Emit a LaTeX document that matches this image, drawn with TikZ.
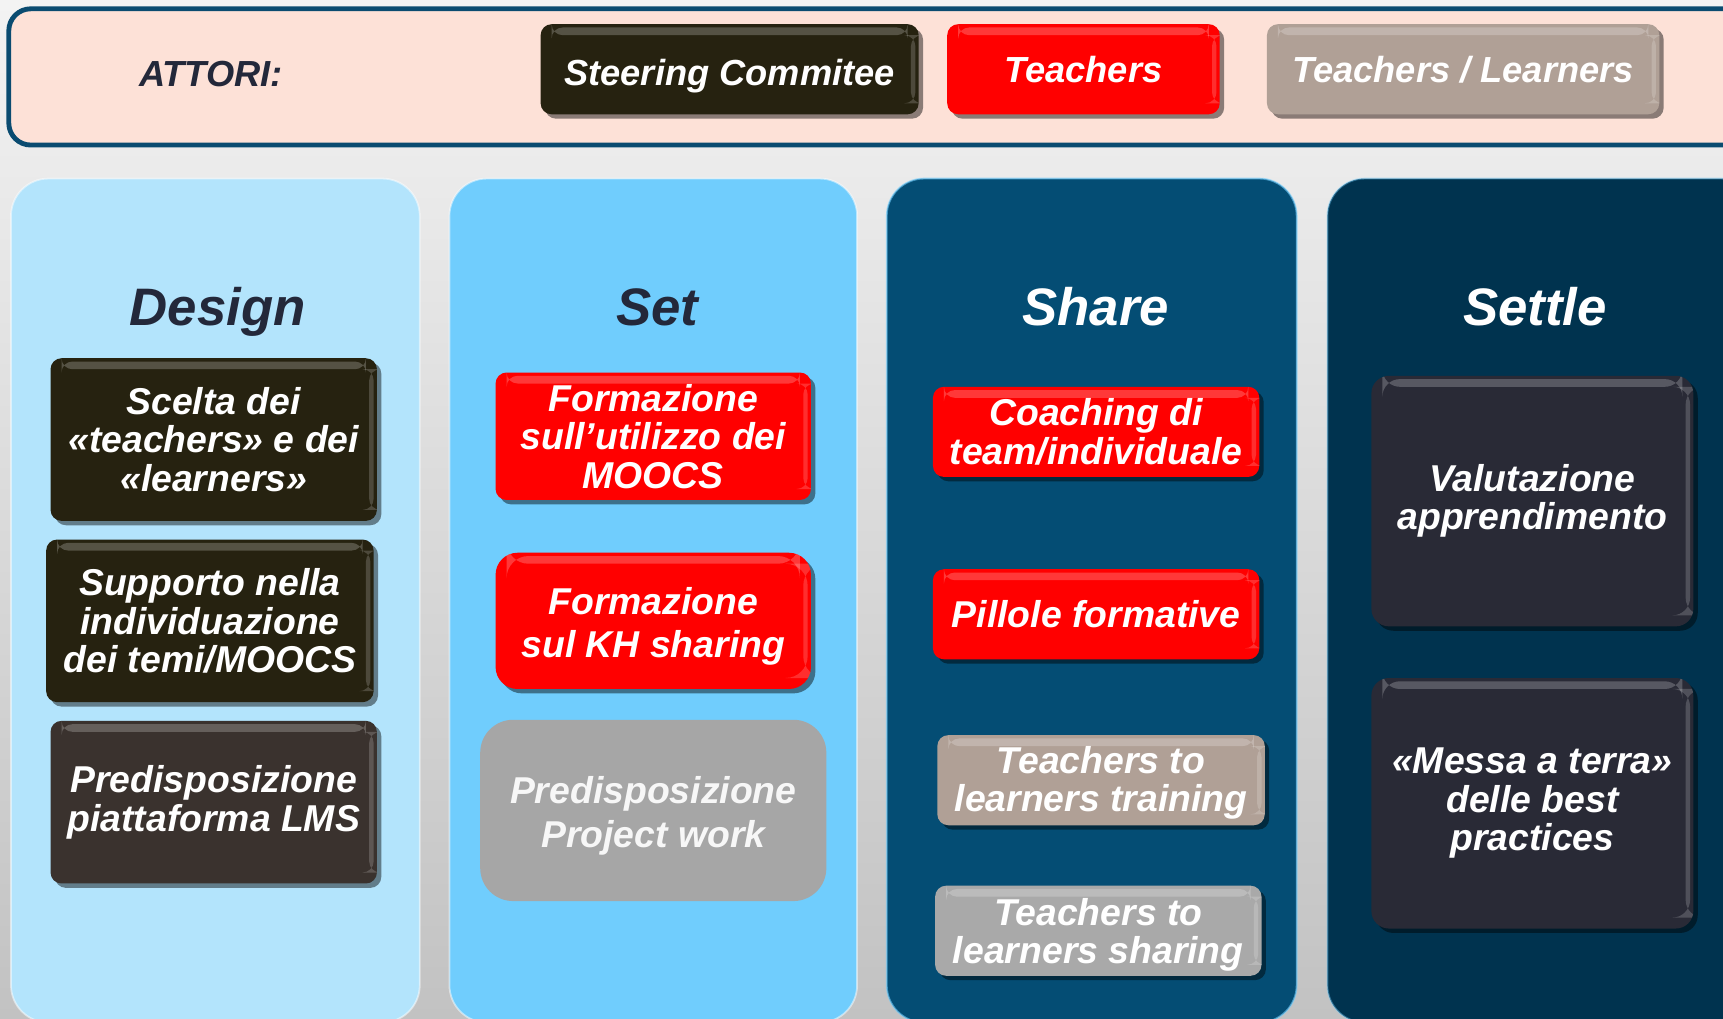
\documentclass[tikz,border=0pt]{standalone}
\usepackage{fontspec}
\setmainfont{Liberation Sans}
\usetikzlibrary{shadows}
\definecolor{bgtop}{HTML}{F3F3F3}
\definecolor{bgbot}{HTML}{C2C2C2}
\definecolor{panelfill}{HTML}{FDE1D7}
\definecolor{panelline}{HTML}{0A4B70}
\definecolor{titledark}{HTML}{23283A}
\definecolor{coldesign}{HTML}{B3E4FC}
\definecolor{colset}{HTML}{70CDFD}
\definecolor{colshare}{HTML}{044D74}
\definecolor{colsettle}{HTML}{00334F}
\definecolor{steer}{HTML}{262210}
\definecolor{steerb}{HTML}{3A322E}
\definecolor{teachred}{HTML}{FF0000}
\definecolor{taupe}{HTML}{B0A096}
\definecolor{midgray}{HTML}{A9A9A9}
\definecolor{pwgray}{HTML}{A6A6A6}
\definecolor{settlebox}{HTML}{292A36}
\begin{document}
\begin{tikzpicture}[x=0.5pt,y=-0.5pt,
  gloss/.style={path picture={
    \fill[white,opacity=0.22] ([xshift=5pt,yshift=-1.5pt]path picture bounding box.north west) rectangle ([xshift=-5pt,yshift=-5pt]path picture bounding box.north east);
    \fill[white,opacity=0.18] ([xshift=-3.5pt,yshift=-5pt]path picture bounding box.north east) rectangle ([xshift=-1.5pt,yshift=5pt]path picture bounding box.south east);
  }},
  btn/.style={rounded corners=5pt, inner sep=0pt, align=center, text=white,
    font=\bfseries\itshape\fontsize{17}{17.5}\selectfont,
    drop shadow={shadow xshift=2pt,shadow yshift=-2pt,opacity=0.45,fill=black}, gloss},
  actor/.style={btn, font=\bfseries\itshape\fontsize{16.5}{17}\selectfont, minimum height=41pt,
    text height=15.3pt, text depth=3.5pt},
  column/.style={rounded corners=17pt, inner sep=0pt},
  coltitle/.style={anchor=base, font=\bfseries\itshape\fontsize{24}{26}\selectfont},
]
\useasboundingbox (0,0) rectangle (1568,927);
\clip (0,0) rectangle (1568,927);
\fill[top color=bgtop, bottom color=bgbot] (0,0) rectangle (1568,927);

% top panel
\node[rounded corners=10pt, fill=panelfill, draw=panelline, line width=2.2pt,
  minimum width=796pt, minimum height=62pt, inner sep=0pt] (panel) at (804,70) {};
\node[font=\bfseries\itshape\fontsize{16.5}{17}\selectfont, text=titledark] (attori) at (192,67) {ATTORI:};
\node[actor, fill=steer, minimum width=172pt, text height=18.3pt] (a1) at (664,63) {Steering Commitee};
\node[actor, fill=teachred, minimum width=124pt] (a2) at (986,63) {Teachers};
\node[actor, fill=taupe, minimum width=178.5pt] (a3) at (1331.5,63) {Teachers / Learners};

% columns
\node[column, fill=coldesign, draw=white, draw opacity=0.5, line width=0.8pt, minimum width=186pt, minimum height=384pt] (c1) at (196,546.5) {};
\node[column, fill=colset, draw=white, draw opacity=0.5, line width=0.8pt, minimum width=185.5pt, minimum height=384pt] (c2) at (594.5,546.5) {};
\node[column, fill=colshare, draw=colset, draw opacity=0.6, line width=0.8pt, minimum width=186.5pt, minimum height=384pt] (c3) at (993.5,546.5) {};
\node[column, fill=colsettle, draw=colset, draw opacity=0.4, line width=0.8pt, minimum width=196pt, minimum height=384pt] (c4) at (1404,546.5) {};

\node[coltitle, text=titledark] (t1) at (198,296) {Design};
\node[coltitle, text=titledark] (t2) at (598,296) {Set};
\node[coltitle, text=white] (t3) at (997,296) {Share};
\node[coltitle, text=white] (t4) at (1397,296) {Settle};

% Design
\node[btn, fill=steer, minimum width=148.5pt, minimum height=74pt] (d1) at (194.5,400) {Scelta dei\\«teachers» e dei\\«learners»};
\node[btn, fill=steer, minimum width=149pt, minimum height=74pt] (d2) at (191,565) {Supporto nella\\individuazione\\dei temi/MOOCS};
\node[btn, fill=steerb, minimum width=148.5pt, minimum height=74pt] (d3) at (194.5,730) {Predisposizione\\piattaforma LMS};

% Set
\node[btn, fill=teachred, minimum width=143.5pt, minimum height=58pt] (s1) at (594.5,397) {Formazione\\sull’utilizzo dei\\MOOCS};
\node[btn, rounded corners=10pt, fill=teachred, minimum width=143.5pt, minimum height=62pt,
  font=\bfseries\itshape\fontsize{17}{20}\selectfont] (s2) at (594.5,565) {\rule{0pt}{17.3pt}Formazione\\sul KH sharing};
\node[rounded corners=15pt, fill=pwgray, inner sep=0pt, align=center, text=white!94!gray,
  minimum width=157.5pt, minimum height=82.5pt,
  font=\bfseries\itshape\fontsize{17}{20}\selectfont] (s3) at (594.5,737.5) {\rule{0pt}{17.3pt}Predisposizione\\Project work};

% Share
\node[btn, fill=teachred, minimum width=148.5pt, minimum height=41pt] (h1) at (997.5,393) {Coaching di\\team/individuale};
\node[btn, fill=teachred, minimum width=148.5pt, minimum height=41pt] (h2) at (997.5,559) {Pillole formative};
\node[btn, fill=taupe, minimum width=149pt, minimum height=41pt] (h3) at (1002,710) {\rule{0pt}{14.7pt}Teachers to\\learners training};
\node[btn, fill=midgray, minimum width=148.5pt, minimum height=41pt] (h4) at (999.5,847) {\rule{0pt}{16.2pt}Teachers to\\learners sharing};

% Settle
\node[btn, rounded corners=8pt, fill=settlebox, minimum width=146.5pt, minimum height=114pt] (e1) at (1394.5,456) {Valutazione\\apprendimento};
\node[btn, rounded corners=8pt, fill=settlebox, minimum width=146.5pt, minimum height=114pt] (e2) at (1394.5,731) {«Messa a terra»\\delle best\\practices};
\end{tikzpicture}
\end{document}
